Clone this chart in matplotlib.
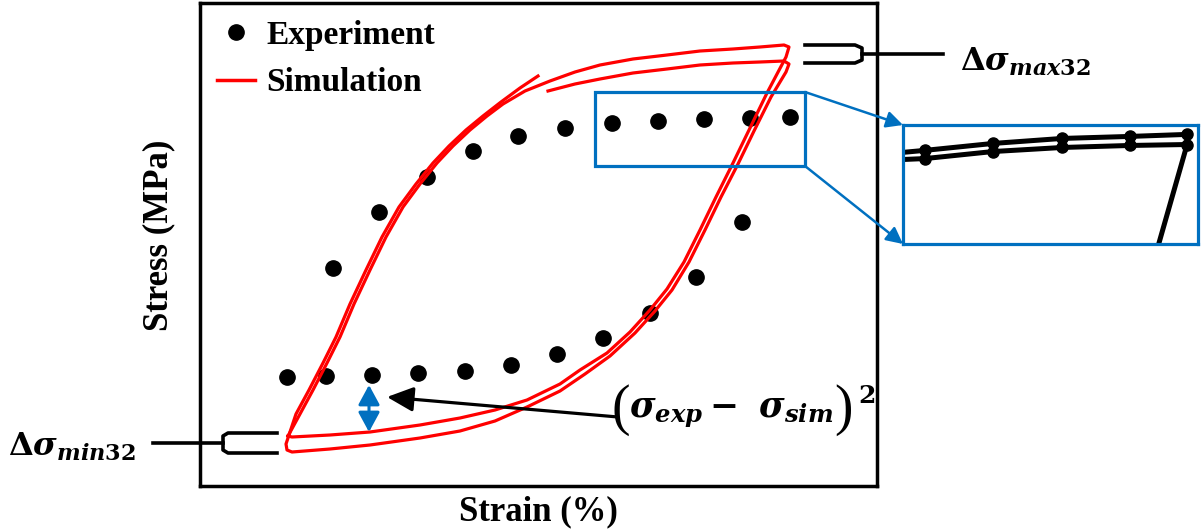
import numpy as np
import matplotlib.pyplot as plt
from matplotlib.lines import Line2D
from matplotlib.patches import Rectangle, ConnectionPatch

plt.rcParams['mathtext.fontset'] = 'custom'
plt.rcParams['mathtext.rm'] = 'DejaVu Serif:bold'
plt.rcParams['mathtext.it'] = 'DejaVu Serif:italic:bold'
plt.rcParams['mathtext.bf'] = 'DejaVu Serif:bold'

W, H = 1201, 531
BLUE = '#0070C0'

# experiment points (strain %, stress MPa)
exp_strain = [-0.503, -0.425, -0.333, -0.241, -0.147, -0.055, 0.037, 0.129, 0.223, 0.315, 0.407,
              0.503, 0.423, 0.331, 0.239, 0.147, 0.053, -0.041, -0.131, -0.223, -0.319, -0.411]
exp_stress = [-265, -263, -261, -257, -253, -241, -219, -187, -137, -65, 45,
              255, 253, 251, 247, 243, 233, 217, 187, 135, 65, -47]

# simulation, first loop
simA_strain = [-0.501, -0.477, -0.451, -0.423, -0.397, -0.369, -0.337, -0.305, -0.271, -0.237,
               -0.203, -0.171, -0.137, -0.103, -0.071, -0.027, 0.023, 0.073, 0.123, 0.189,
               0.257, 0.323, 0.389, 0.443, 0.491, 0.501, 0.495, 0.457, 0.423, 0.389,
               0.355, 0.323, 0.291, 0.257, 0.223, 0.183, 0.137, 0.083, 0.043, -0.023,
               -0.087, -0.157, -0.237, -0.337, -0.417, -0.493, -0.501]
simA_stress = [-383, -339, -291, -237, -185, -119, -51, 15, 75, 121,
               163, 197, 229, 257, 281, 307, 327, 345, 359, 371,
               379, 387, 391, 395, 399, 395, 375, 303, 233, 163,
               95, 29, -35, -89, -131, -175, -217, -251, -279, -311,
               -331, -347, -361, -375, -381, -385, -383]

# simulation, second loop (drawn from its upper branch, open ends)
simB_strain = [0.019, 0.073, 0.123, 0.189, 0.257, 0.323, 0.389, 0.443, 0.491, 0.501,
               0.495, 0.465, 0.431, 0.399, 0.365, 0.333, 0.301, 0.267, 0.233, 0.193,
               0.143, 0.093, 0.043, -0.023, -0.087, -0.157, -0.237, -0.337, -0.417, -0.493,
               -0.503, -0.505, -0.485, -0.459, -0.431, -0.405, -0.377, -0.345, -0.313, -0.279,
               -0.245, -0.211, -0.179, -0.145, -0.111, -0.075, -0.037, -0.001]
simB_stress = [307, 321, 331, 343, 351, 359, 363, 365, 367, 361,
               345, 295, 227, 161, 95, 29, -35, -91, -133, -177,
               -223, -259, -293, -325, -353, -373, -387, -401, -409, -415,
               -411, -399, -339, -291, -237, -185, -119, -51, 15, 75,
               121, 163, 197, 229, 257, 285, 313, 337]

# zoomed detail (inset units)
zoom_top_x = [0.0, 0.075, 0.305, 0.539, 0.769, 0.963, 0.963]
zoom_top_y = [0.770, 0.787, 0.845, 0.887, 0.904, 0.921, 0.832]
zoom_bot_x = [0.0, 0.075, 0.305, 0.539, 0.769, 0.963, 0.861]
zoom_bot_y = [0.710, 0.718, 0.777, 0.811, 0.828, 0.836, -0.05]


def fx(px):
    return px / W


def fy(py):
    return 1 - py / H


fig = plt.figure(figsize=(W / 100, H / 100), dpi=100)
ax = fig.add_axes([fx(200), fy(486), 677 / W, 483 / H])
ax.set_xlim(-0.677, 0.677)
ax.set_ylim(-483, 483)
ax.set_xticks([])
ax.set_yticks([])
for s in ax.spines.values():
    s.set_linewidth(2.5)

ax.plot(exp_strain, exp_stress, 'o', color='k', ms=11, ls='none', zorder=2)
ax.plot(simA_strain, simA_stress, color='red', lw=2.3, zorder=3)
ax.plot(simB_strain, simB_stress, color='red', lw=2.3, zorder=3)

serif = dict(family='Liberation Serif', weight='bold')
ax.set_xlabel('Strain (%)', fontsize=25, **serif)
ax.xaxis.set_label_coords(0.5, -0.02)
ax.set_ylabel('Stress (MPa)', fontsize=25, **serif)
ax.yaxis.set_label_coords(-0.037, 0.518)

handles = [Line2D([], [], ls='none', marker='o', color='k', ms=11),
           Line2D([], [], color='red', lw=2.5)]
ax.legend(handles, ['Experiment', 'Simulation'], loc='upper left', frameon=False,
          prop=dict(size=24, **serif), handlelength=1.15, handletextpad=0.35,
          borderaxespad=0.1, borderpad=0.4, labelspacing=0.5)

# error arrow
ax.annotate('', xy=(-0.339, -281), xytext=(-0.339, -375),
            arrowprops=dict(arrowstyle='<|-|>,head_length=1.2,head_width=0.65',
                            color=BLUE, lw=2.2, shrinkA=0, shrinkB=0, mutation_scale=10))
ax.annotate('', xy=(-0.303, -305), xytext=(0.159, -345),
            arrowprops=dict(arrowstyle='-|>,head_length=1.6,head_width=0.75',
                            color='k', lw=2.3, shrinkA=0, shrinkB=0, mutation_scale=10))
ax.text(0.147, -331, '(', fontsize=40, family='Liberation Serif', ha='left', va='center')
ax.text(0.181, -337, r'$\sigma_{exp}-\ \sigma_{sim}$', fontsize=25, ha='left', va='center')
ax.text(0.592, -331, ')', fontsize=40, family='Liberation Serif', ha='left', va='center')
ax.text(0.640, -303, r'$2$', fontsize=18, ha='left', va='center')

# zoom window
ax.add_patch(Rectangle((0.113, 157), 0.42, 148, fill=False, ec=BLUE, lw=2.3, zorder=4))
axin = fig.add_axes([fx(903), fy(244), 295 / W, 119 / H])
axin.set_xlim(0, 1)
axin.set_ylim(0, 1)
axin.set_xticks([])
axin.set_yticks([])
for s in axin.spines.values():
    s.set_linewidth(2.3)
    s.set_color(BLUE)
axin.plot(zoom_top_x, zoom_top_y, color='k', lw=3.6, marker='o', ms=8, markevery=[1, 2, 3, 4, 5])
axin.plot(zoom_bot_x, zoom_bot_y, color='k', lw=3.6, marker='o', ms=8, markevery=[1, 2, 3, 4, 5])

for ya, yb in [(305, 1), (157, 0)]:
    con = ConnectionPatch(xyA=(0.533, ya), coordsA=ax.transData, xyB=(0, yb), coordsB=axin.transAxes,
                          arrowstyle='-|>,head_length=1.0,head_width=0.5', color=BLUE, lw=1.8,
                          mutation_scale=10)
    fig.add_artist(con)

# range brackets
br = dict(color='k', lw=2.6, transform=fig.transFigure, clip_on=False)
fig.add_artist(Line2D([fx(v) for v in [805, 855, 862, 862, 855, 805]],
                      [fy(v) for v in [45, 45, 48, 60, 63, 63]], **br))
fig.add_artist(Line2D([fx(862), fx(943)], [fy(54), fy(54)], **br))
fig.add_artist(Line2D([fx(v) for v in [277, 228, 223, 223, 228, 277]],
                      [fy(v) for v in [433, 433, 436, 450, 453, 453]], **br))
fig.add_artist(Line2D([fx(153), fx(223)], [fy(443), fy(443)], **br))

fig.text(fx(960), fy(62), r'$\Delta\sigma_{max32}$', fontsize=23, ha='left', va='center')
fig.text(fx(8), fy(447), r'$\Delta\sigma_{min32}$', fontsize=23, ha='left', va='center')

fig.savefig('out.png', dpi=100)
